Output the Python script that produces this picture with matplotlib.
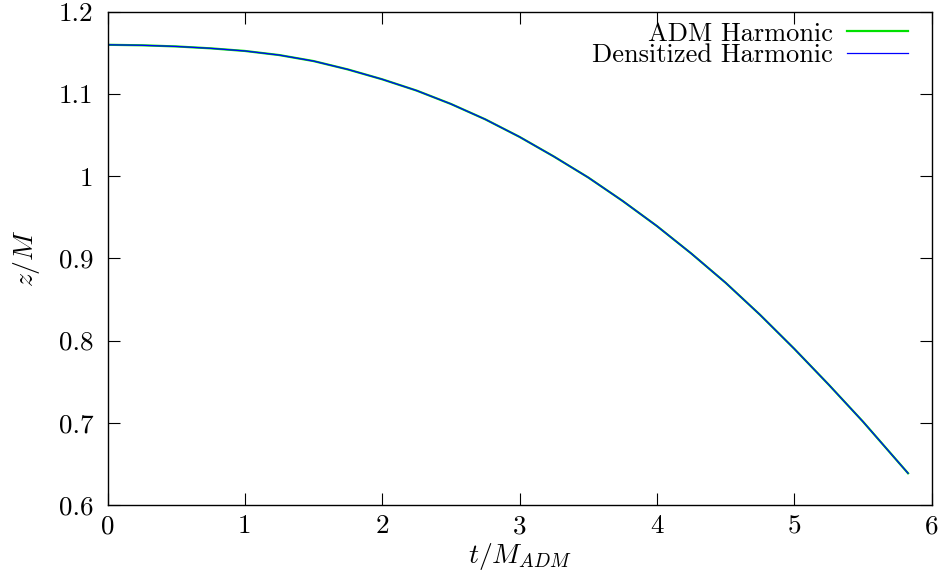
import matplotlib
matplotlib.use("Agg")
import matplotlib.pyplot as plt
from matplotlib.ticker import FuncFormatter

# z/M of the puncture against t/M_ADM, both gauges
t_vals = [0.0, 0.25, 0.5, 0.75, 1.0, 1.25, 1.5, 1.75, 2.0, 2.25, 2.5, 2.75,
          3.0, 3.25, 3.5, 3.75, 4.0, 4.25, 4.5, 4.75, 5.0, 5.25, 5.5, 5.75,
          5.828]
z_adm = [1.1600, 1.1594, 1.1580, 1.1557, 1.1525, 1.1475, 1.1402, 1.1300,
         1.1180, 1.1043, 1.0880, 1.0693, 1.0479, 1.0240, 0.9985, 0.9700,
         0.9394, 0.9060, 0.8704, 0.8315, 0.7900, 0.7465, 0.7014, 0.6535,
         0.6386]
z_dens = [1.1600, 1.1594, 1.1580, 1.1557, 1.1525, 1.1475, 1.1402, 1.1300,
          1.1180, 1.1043, 1.0880, 1.0693, 1.0479, 1.0240, 0.9985, 0.9700,
          0.9394, 0.9060, 0.8704, 0.8315, 0.7900, 0.7465, 0.7014, 0.6535,
          0.6386]

x_ticks = [0, 1, 2, 3, 4, 5, 6]
y_ticks = [0.6, 0.7, 0.8, 0.9, 1.0, 1.1, 1.2]

plt.rcParams['font.family'] = 'serif'
plt.rcParams['font.serif'] = ['cmr10']
plt.rcParams['mathtext.fontset'] = 'cm'
plt.rcParams['axes.formatter.use_mathtext'] = True

fig = plt.figure(figsize=(9.43, 5.76), dpi=100)
ax = fig.add_axes([0.114, 0.1233, 0.874, 0.856])

ax.plot(t_vals, z_adm, color='#00e000', lw=1.6, label='ADM Harmonic')
ax.plot(t_vals, z_dens, color='#0000ff', lw=0.9, label='Densitized Harmonic')

ax.set_xlim(0, 6)
ax.set_ylim(0.6, 1.2)
ax.set_xticks(x_ticks)
ax.set_yticks(y_ticks)
ax.xaxis.set_major_formatter(FuncFormatter(lambda v, p: '%g' % v))
ax.yaxis.set_major_formatter(FuncFormatter(lambda v, p: '%g' % v))
ax.tick_params(direction='in', top=True, right=True, length=8.5, width=0.8,
               labelsize=19.5)
ax.tick_params(axis='x', pad=7)
ax.tick_params(axis='y', pad=10)
for s in ax.spines.values():
    s.set_linewidth(1.0)

ax.set_xlabel(r'$t/M_{ADM}$', fontsize=20, labelpad=2)
ax.set_ylabel(r'$z/M$', fontsize=20, labelpad=12)

ax.legend(loc='upper right', bbox_to_anchor=(1.0, 1.028), frameon=False,
          markerfirst=False, fontsize=19, handlelength=2.3,
          handletextpad=0.55, labelspacing=-0.07, borderaxespad=0.5)

fig.savefig('out.png', dpi=100)
